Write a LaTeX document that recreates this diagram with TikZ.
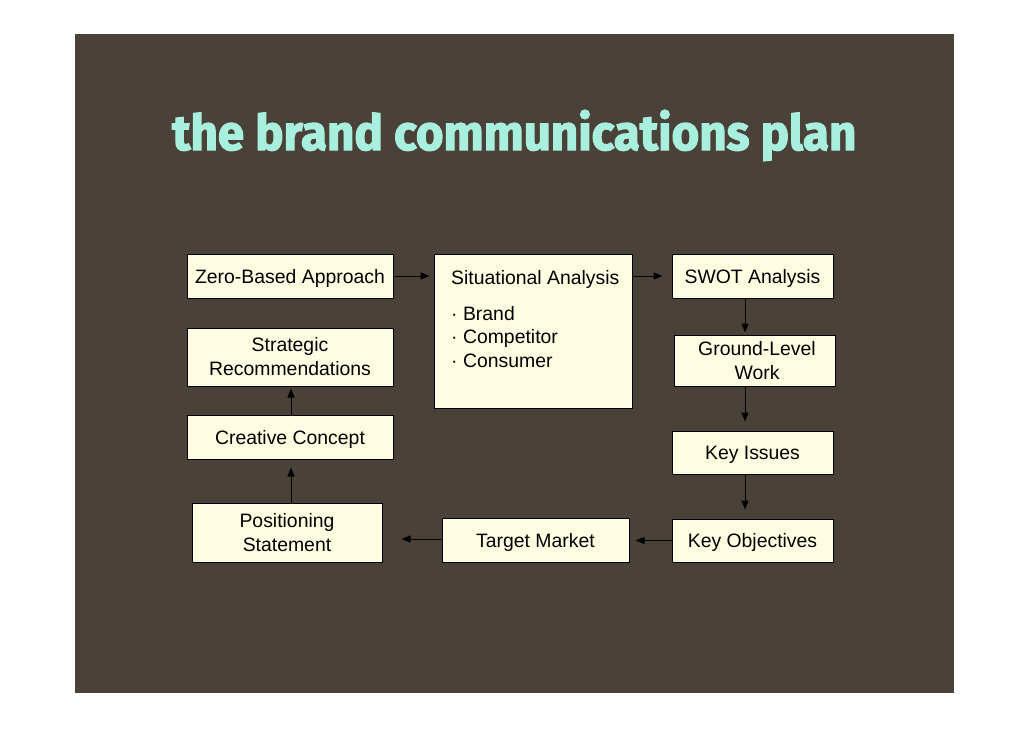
\documentclass[tikz,border=0pt]{standalone}
\usepackage{fontspec}
\setmainfont{Liberation Sans}
\newfontfamily\titlefont[BoldFeatures={FakeBold=2.5}]{Fira Sans}
\usetikzlibrary{arrows.meta}
\definecolor{bgbrown}{HTML}{4A4239}
\definecolor{boxcream}{HTML}{FFFDE1}
\definecolor{titlecol}{HTML}{A8F0DD}
\tikzset{
  box/.style={draw=black, line width=1pt, fill=boxcream, inner sep=0pt, align=center,
    font=\fontsize{19.4}{24}\selectfont, text height=14pt, text depth=0pt},
  twoline/.style={text height=, text depth=},
  boxtext/.style={inner sep=0pt, font=\fontsize{19.4}{24}\selectfont, anchor=base west},
  flow/.style={draw=black, line width=1pt, -{Triangle[length=9pt,width=7pt]}}
}
\begin{document}
\begin{tikzpicture}[x=1pt,y=-1pt]
\useasboundingbox (0,0) rectangle (1030,728);
\fill[white] (0,0) rectangle (1030,728);
\fill[bgbrown] (75,34) rectangle (954,693);
\node[anchor=base west, inner sep=0pt, text=titlecol] (title) at (172,150)
  {\resizebox{684pt}{40pt}{\titlefont\bfseries the brand communications plan}};

\node[box, minimum width=206pt, minimum height=44pt] (zero) at (290,276) {Zero-Based Approach};
\node[box, minimum width=198pt, minimum height=154pt] (sit) at (533,331) {};
\node[boxtext] (sitt) at (451,284) {Situational Analysis};
\node[boxtext] (b1) at (451,320) {· Brand};
\node[boxtext] (b2) at (451,343) {· Competitor};
\node[boxtext] (b3) at (451,367) {· Consumer};
\node[box, twoline, minimum width=206pt, minimum height=58pt] (strat) at (290,357) {Strategic\\Recommendations};
\node[box, minimum width=206pt, minimum height=44pt] (creative) at (290,437) {Creative Concept};
\node[box, twoline, minimum width=190pt, minimum height=59pt] (pos) at (287,532.5) {Positioning\\Statement};
\node[box, minimum width=187pt, minimum height=44pt] (target) at (535.5,540) {Target Market};
\node[box, minimum width=161pt, minimum height=44pt] (swot) at (752.5,276) {SWOT Analysis};
\node[box, twoline, minimum width=161pt, minimum height=51pt] (ground) at (754.5,360.5) {\hspace*{5pt}Ground-Level\\\hspace*{5pt}Work};
\node[box, minimum width=161pt, minimum height=43pt] (issues) at (752.5,452.5) {Key Issues};
\node[box, minimum width=161pt, minimum height=43pt] (obj) at (752.5,540.5) {Key Objectives};

\coordinate (vr) at (745,0);
\coordinate (vl) at (291,0);

\draw[flow, shorten >=4pt] (zero.east) -- (zero.east -| sit.west);
\draw[flow, shorten >=9pt] (sit.east |- swot) -- (swot.west);
\draw[flow, shorten >=2pt] (swot.south -| vr) -- (ground.north -| vr);
\draw[flow, shorten >=9pt] (ground.south -| vr) -- (issues.north -| vr);
\draw[flow, shorten >=9pt] (issues.south -| vr) -- (obj.north -| vr);
\draw[flow, shorten >=6pt] (obj.west) -- (obj.west -| target.east);
\draw[flow, shorten >=19pt] ([yshift=1pt]target.west) -- ([yshift=1pt]target.west -| pos.east);
\draw[flow, shorten >=8pt] (pos.north -| vl) -- (creative.south -| vl);
\draw[flow, shorten >=2pt] (creative.north -| vl) -- (strat.south -| vl);
\end{tikzpicture}
\end{document}
